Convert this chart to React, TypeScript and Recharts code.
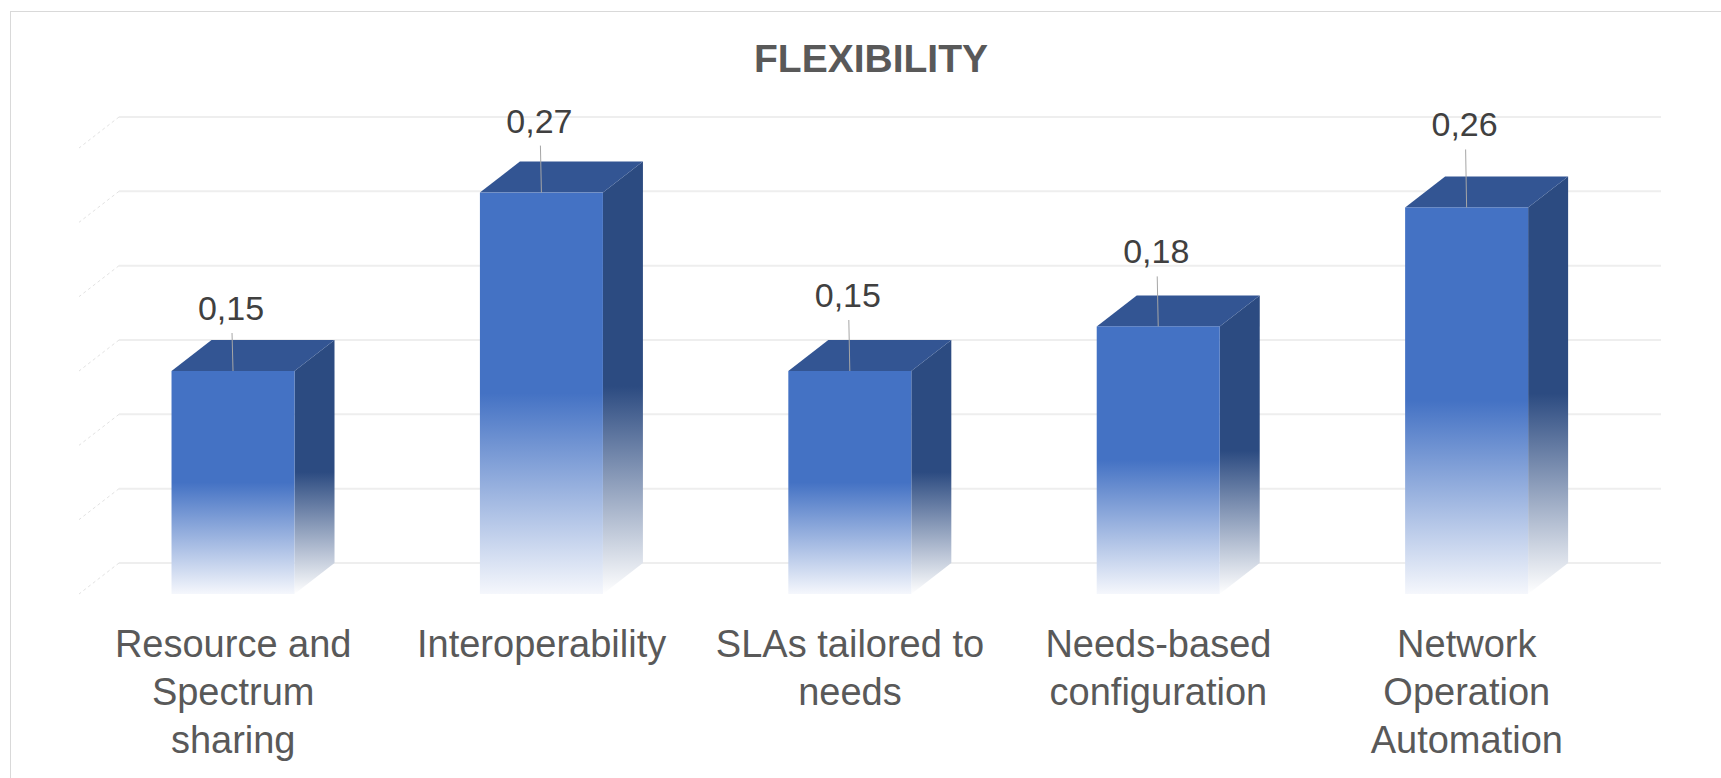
import { Bar, BarChart, CartesianGrid, LabelList, XAxis, YAxis } from "recharts";

const categories = [
  "Resource and Spectrum sharing",
  "Interoperability",
  "SLAs tailored to needs",
  "Needs-based configuration",
  "Network Operation Automation",
];
const values = [0.15, 0.27, 0.15, 0.18, 0.26];
const tickLines = [
  ["Resource and", "Spectrum", "sharing"],
  ["Interoperability"],
  ["SLAs tailored to", "needs"],
  ["Needs-based", "configuration"],
  ["Network", "Operation", "Automation"],
];
const yTicks = [0, 0.05, 0.1, 0.15, 0.2, 0.25, 0.3];

// value labels were dragged by hand, so each sits a little differently above its column
const labelLift = [51, 60, 64, 63, 71];

const data = categories.map((name, i) => ({ name, value: values[i] }));

const W = 1721;
const H = 778;
const DEPTH_X = 40;
const DEPTH_Y = -31;
const FONT = '"Liberation Sans", Arial, sans-serif';

const formatValue = (v: number) => v.toFixed(2).replace(".", ",");

function Column3D(props: any) {
  const { x, y, width, height, index } = props;
  const right = x + width;
  const bottom = y + height;
  const frontId = `col-front-${index}`;
  const sideId = `col-side-${index}`;
  return (
    <g>
      <defs>
        <linearGradient id={frontId} x1="0" y1="0" x2="0" y2="1">
          <stop offset="0" stopColor="#4472c4" />
          <stop offset="0.5" stopColor="#4472c4" />
          <stop offset="1" stopColor="#f5f7fc" />
        </linearGradient>
        <linearGradient id={sideId} x1="0" y1="0" x2="0" y2="1">
          <stop offset="0" stopColor="#2c4b81" />
          <stop offset="0.52" stopColor="#2c4b81" />
          <stop offset="1" stopColor="#ffffff" />
        </linearGradient>
      </defs>
      <polygon
        points={`${right},${y} ${right + DEPTH_X},${y + DEPTH_Y} ${right + DEPTH_X},${bottom + DEPTH_Y} ${right},${bottom}`}
        fill={`url(#${sideId})`}
      />
      <polygon
        points={`${x},${y} ${right},${y} ${right + DEPTH_X},${y + DEPTH_Y} ${x + DEPTH_X},${y + DEPTH_Y}`}
        fill="#335593"
      />
      <rect x={x} y={y} width={width} height={height} fill={`url(#${frontId})`} />
    </g>
  );
}

function ValueLabel(props: any) {
  const { x, y, width, value, index } = props;
  const cx = x + width / 2;
  const base = y - labelLift[index];
  return (
    <g>
      <line x1={cx - 1} y1={base + 13} x2={cx} y2={y} stroke="#a6a6a6" strokeWidth={1} />
      <text x={cx - 2} y={base} textAnchor="middle" fill="#404040" fontSize={34} fontFamily={FONT}>
        {formatValue(value)}
      </text>
    </g>
  );
}

function CategoryTick(props: any) {
  const { x, y, payload } = props;
  const idx = categories.indexOf(payload.value);
  const lines = tickLines[idx] ?? [payload.value];
  return (
    <text x={x} y={y} textAnchor="middle" fill="#595959" fontSize={38} fontFamily={FONT}>
      {lines.map((line, i) => (
        <tspan key={i} x={x} dy={i === 0 ? 55 : 48}>
          {line}
        </tspan>
      ))}
    </text>
  );
}

// back-wall gridline plus the faint dashed edge running along the side wall
function WallGridLine(props: any) {
  const { x1, y1, x2, y2 } = props;
  return (
    <g>
      <line
        x1={x1 + DEPTH_X}
        y1={y1 + DEPTH_Y}
        x2={x2 + DEPTH_X}
        y2={y2 + DEPTH_Y}
        stroke="#eeeeee"
        strokeWidth={2}
      />
      <line
        x1={x1 + DEPTH_X}
        y1={y1 + DEPTH_Y}
        x2={x1}
        y2={y1}
        stroke="#e2e2e2"
        strokeWidth={1}
        strokeDasharray="3 3"
      />
    </g>
  );
}

export default function App() {
  return (
    <div style={{ position: "absolute", left: 0, top: 0, width: W, height: H, background: "#ffffff" }}>
      <svg width={W} height={H} style={{ position: "absolute", left: 0, top: 0 }}>
        <rect x={10.5} y={11.5} width={W + 100} height={H + 100} fill="none" stroke="#d9d9d9" strokeWidth={1} />
        <text x={871} y={72} textAnchor="middle" fill="#595959" fontSize={39} fontWeight="bold" fontFamily={FONT}>
          FLEXIBILITY
        </text>
      </svg>
      <div style={{ position: "absolute", left: 0, top: 0 }}>
        <BarChart
          width={W}
          height={H}
          data={data}
          margin={{ top: 148, right: 100, bottom: 34, left: 79 }}
          barCategoryGap="30%"
        >
          <CartesianGrid vertical={false} horizontal={(p: any) => <WallGridLine {...p} />} />
          <YAxis hide domain={[0, 0.3]} ticks={yTicks} />
          <XAxis
            dataKey="name"
            height={150}
            axisLine={false}
            tickLine={false}
            interval={0}
            tick={<CategoryTick />}
          />
          <Bar dataKey="value" shape={<Column3D />} isAnimationActive={false}>
            <LabelList dataKey="value" content={<ValueLabel />} />
          </Bar>
        </BarChart>
      </div>
    </div>
  );
}
